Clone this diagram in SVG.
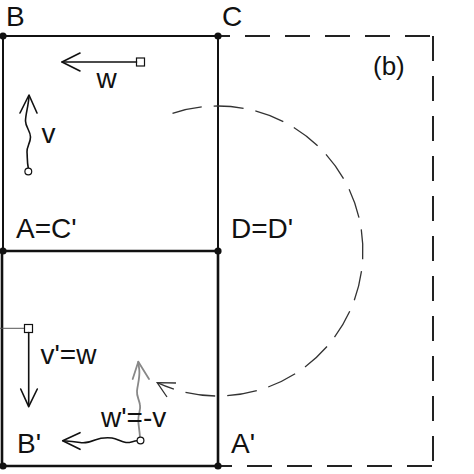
<svg xmlns="http://www.w3.org/2000/svg" width="474" height="474" viewBox="0 0 474 474">
<style>
.lbl{font-family:"Liberation Sans",Arial,sans-serif;font-size:28px;fill:#111}
.edge{stroke:#111;stroke-width:2;fill:none}
.edge2{stroke:#111;stroke-width:2.6;fill:none}
.dash{stroke:#222;stroke-width:2;fill:none;stroke-dasharray:25 15}
.vec{stroke:#111;stroke-width:1.6;fill:none;stroke-linecap:round;stroke-linejoin:round}
.gvec{stroke:#888;stroke-width:1.8;fill:none;stroke-linecap:round;stroke-linejoin:round}
.pt{fill:#111}
.arc{stroke:#333;stroke-width:1.3;fill:none}
</style>
<rect width="474" height="474" fill="#fff"/>
<g id="connectors">
<!-- dashed outer rectangle -->
<line class="dash" x1="218" y1="36" x2="433" y2="36" stroke-dashoffset="13"/>
<line class="dash" x1="433" y1="36" x2="433" y2="466"/>
<line class="dash" x1="218" y1="466" x2="433" y2="466" stroke-dashoffset="11"/>
<!-- top square -->
<line class="edge" x1="3" y1="36" x2="218" y2="36"/>
<line class="edge" x1="3" y1="36" x2="3" y2="251"/>
<line class="edge" x1="218" y1="36" x2="218" y2="251"/>
<!-- bottom square -->
<line class="edge2" x1="3" y1="251" x2="218" y2="251"/>
<line class="edge2" x1="3" y1="466" x2="218" y2="466"/>
<line class="edge2" x1="2" y1="251" x2="2" y2="466"/>
<line class="edge2" x1="218" y1="251" x2="218" y2="466"/>
<!-- rotation arc -->
<path class="arc" d="M172.5,113.3 A145,145 0 1 1 157.2,382.7" stroke-dasharray="30 12"/>
<polyline class="arc" points="176,383 157.2,382.7 167,397"/>
</g>
<g id="points">
<circle class="pt" cx="3" cy="36" r="3.6"/>
<circle class="pt" cx="218" cy="36" r="3.6"/>
<circle class="pt" cx="3" cy="251" r="3.6"/>
<circle class="pt" cx="218" cy="251" r="3.6"/>
<circle class="pt" cx="3" cy="466" r="3.6"/>
<circle class="pt" cx="218" cy="466" r="3.6"/>
</g>
<g id="vec-w">
<rect x="136.5" y="58" width="8" height="8" fill="#fff" stroke="#111" stroke-width="1.2"/>
<line class="vec" x1="136.5" y1="62" x2="62" y2="62"/>
<polyline class="vec" points="80,53 62,62 80,71"/>
<text class="lbl" x="96.5" y="88">w</text>
</g>
<g id="vec-v">
<path class="vec" d="M28.3,168 C27,162 27.5,158 27,152 C26.5,147 30.5,143 30.5,137 C30.5,131 25.5,127 25.5,121 C25.5,114 28.5,106 29,96"/>
<circle cx="28.3" cy="171.5" r="3.4" fill="#fff" stroke="#111" stroke-width="1.2"/>
<polyline class="vec" points="20,113 29,95 37,113"/>
<text class="lbl" x="41.5" y="143">v</text>
</g>
<g id="vec-v-prime">
<line x1="0" y1="328.3" x2="24.5" y2="328.3" stroke="#555" stroke-width="1"/>
<rect x="24.5" y="324.5" width="8" height="8" fill="#fff" stroke="#111" stroke-width="1.2"/>
<line class="vec" x1="28.7" y1="332.5" x2="28.7" y2="406"/>
<polyline class="vec" points="20.7,389 28.7,406.7 37.3,389"/>
<text class="lbl" x="40.5" y="364">v'=w</text>
</g>
<g id="vec-w-prime">
<path class="gvec" d="M140,437 C139.5,430 138.3,425 138.3,420 C138.3,413 141,410 140,405 C139,399 136.5,396 137,391 C137.5,385 140,378 139.3,370 L138.3,362"/>
<polyline class="gvec" points="132.7,379 138.3,361.7 149,379"/>
<text class="lbl" x="101" y="427">w'=-v</text>
</g>
<g id="vec-b-prime">
<path class="vec" d="M137,440.7 C133,441 130,443 126,442.5 C121,442 117,438.5 112,438 C106,437.5 100,438 95,440 C90,442 85,443.5 80,442.5 C74,441.5 68,441 63,440.7"/>
<circle cx="140.5" cy="440.5" r="3.4" fill="#fff" stroke="#111" stroke-width="1.2"/>
<polyline class="vec" points="80,432.7 62.7,440.7 80,449.3"/>
<text class="lbl" x="17" y="453">B'</text>
</g>
<g id="labels">
<text class="lbl" x="6" y="26">B</text>
<text class="lbl" x="222" y="26">C</text>
<text class="lbl" x="16" y="238">A=C'</text>
<text class="lbl" x="231" y="238">D=D'</text>
<text class="lbl" x="231" y="453">A'</text>
<text class="lbl" x="373" y="75" style="font-size:26px">(b)</text>
</g>
</svg>
